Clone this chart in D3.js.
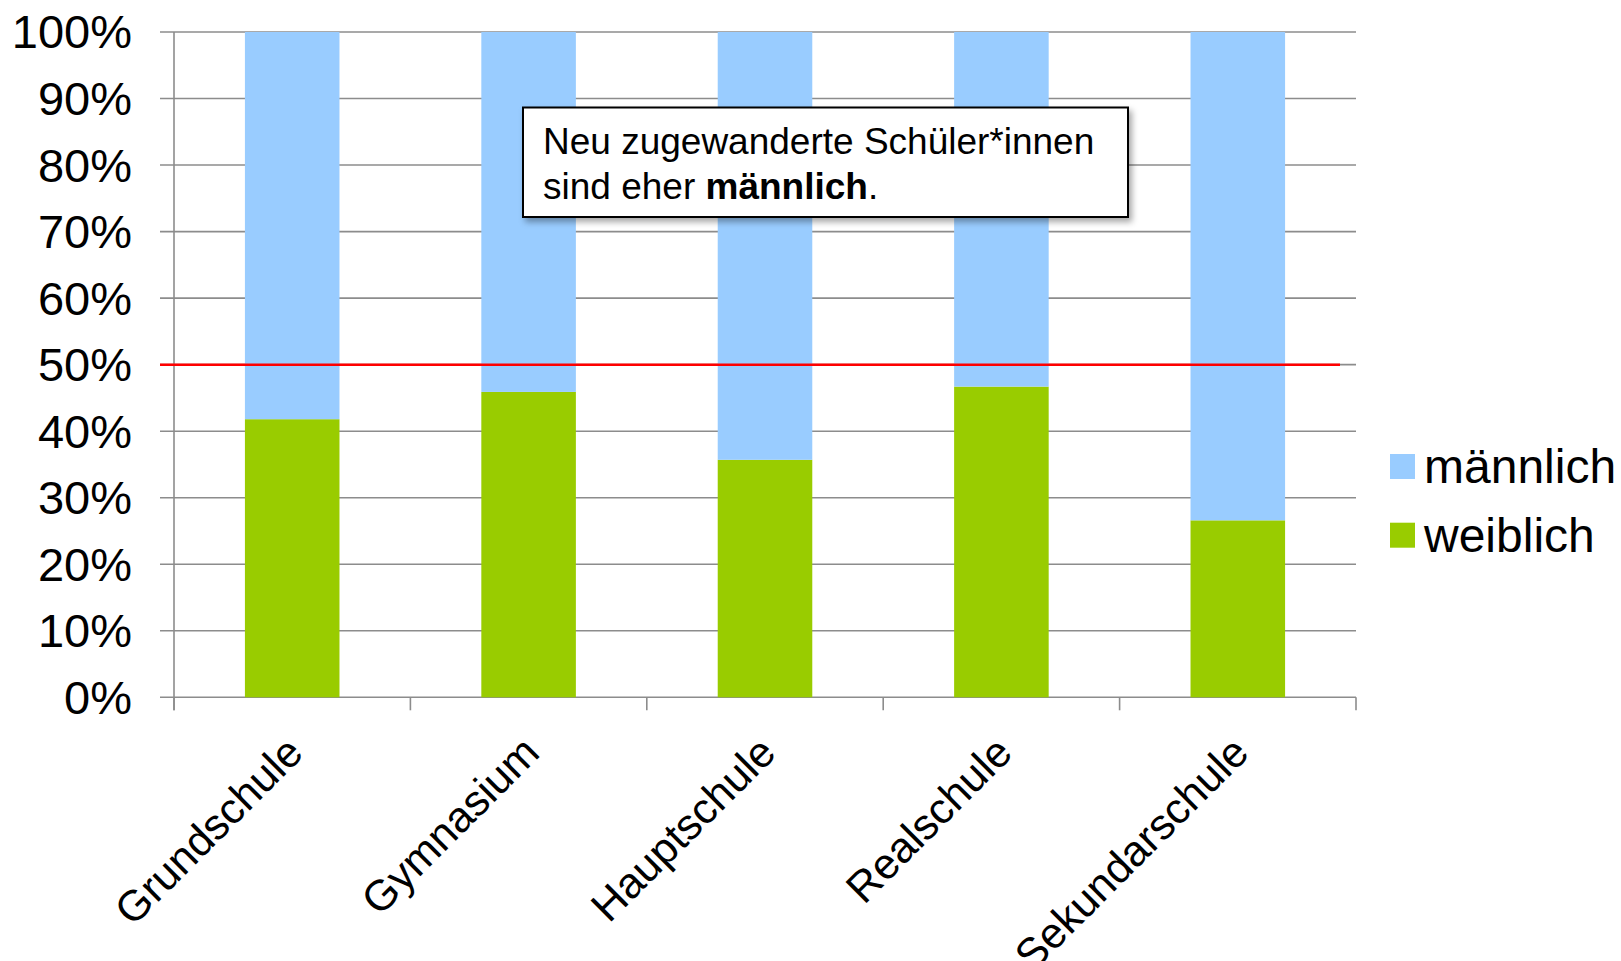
<!DOCTYPE html>
<html>
<head>
<meta charset="utf-8">
<script src="https://cdn.jsdelivr.net/npm/d3@7"></script>
<style>
  body { margin: 0; background: #fff; }
  text { font-family: "Liberation Sans", Arial, sans-serif; }
</style>
</head>
<body>
<script>
const categories = ["Grundschule", "Gymnasium", "Hauptschule", "Realschule", "Sekundarschule"];
const weiblich = [0.418, 0.459, 0.357, 0.467, 0.266];
const maennlich = weiblich.map(v => 1 - v);
const seriesNames = ["weiblich", "männlich"];
const yTicks = [0, 0.1, 0.2, 0.3, 0.4, 0.5, 0.6, 0.7, 0.8, 0.9, 1];
const threshold = 0.5;

const width = 1621, height = 961;
const colors = { "männlich": "#99ccff", "weiblich": "#99cc00" };

const x = d3.scaleBand().domain(categories).range([174, 1356]);
const y = d3.scaleLinear().domain([0, 1]).range([697.3, 32]);

const rows = categories.map((c, i) => ({ cat: c, "weiblich": weiblich[i], "männlich": maennlich[i] }));
const stack = d3.stack().keys(seriesNames)(rows);

const svg = d3.select("body").append("svg")
    .attr("width", width)
    .attr("height", height);

const defs = svg.append("defs");
const f = defs.append("filter").attr("id", "shadow")
    .attr("x", "-10%").attr("y", "-20%").attr("width", "130%").attr("height", "150%");
f.append("feDropShadow")
    .attr("dx", 3).attr("dy", 4).attr("stdDeviation", 3)
    .attr("flood-color", "#000").attr("flood-opacity", 0.35);

// gridlines
svg.append("g")
  .selectAll("line")
  .data(yTicks)
  .join("line")
    .attr("x1", 160).attr("x2", 1356)
    .attr("y1", d => y(d)).attr("y2", d => y(d))
    .attr("stroke", "#8c8c8c")
    .attr("stroke-width", 1.6);

// y axis line
svg.append("line")
    .attr("x1", 174).attr("x2", 174)
    .attr("y1", y(1)).attr("y2", y(0) + 13)
    .attr("stroke", "#8c8c8c").attr("stroke-width", 1.6);

// category tick marks at band edges
const edges = categories.map(c => x(c)).concat([x.range()[1]]);
svg.append("g")
  .selectAll("line")
  .data(edges)
  .join("line")
    .attr("x1", d => d).attr("x2", d => d)
    .attr("y1", y(0)).attr("y2", y(0) + 13)
    .attr("stroke", "#8c8c8c").attr("stroke-width", 1.6);

// y tick labels
svg.append("g")
  .selectAll("text")
  .data(yTicks)
  .join("text")
    .attr("x", 132)
    .attr("y", d => y(d))
    .attr("dy", "0.35em")
    .attr("text-anchor", "end")
    .style("font-size", "47px")
    .text(d => d3.format(".0%")(d));

// bars
const barW = x.bandwidth() * 0.4;
svg.append("g")
  .selectAll("g")
  .data(stack)
  .join("g")
    .attr("fill", d => colors[d.key])
  .selectAll("rect")
  .data(d => d)
  .join("rect")
    .attr("x", d => x(d.data.cat) + (x.bandwidth() - barW) / 2)
    .attr("width", barW)
    .attr("y", d => y(d[1]))
    .attr("height", d => y(d[0]) - y(d[1]));

// 50% line
svg.append("line")
    .attr("x1", 160).attr("x2", 1340)
    .attr("y1", y(threshold)).attr("y2", y(threshold))
    .attr("stroke", "#ff0000").attr("stroke-width", 2.5);

// x labels
svg.append("g")
  .selectAll("text")
  .data(categories)
  .join("text")
    .attr("text-anchor", "end")
    .attr("transform", d => `translate(${x(d) + x.bandwidth() / 2 + 13},755) rotate(-45)`)
    .style("font-size", "43px")
    .text(d => d);

// legend
const legend = svg.append("g")
  .selectAll("g")
  .data(["männlich", "weiblich"])
  .join("g")
    .attr("transform", (d, i) => `translate(1390,${454 + i * 68.7})`);
legend.append("rect")
    .attr("width", 25).attr("height", 25)
    .attr("fill", d => colors[d]);
legend.append("text")
    .attr("x", 34).attr("y", 12.5)
    .attr("dy", "0.35em")
    .style("font-size", "48px")
    .text(d => d);

// annotation box
const box = svg.append("g");
box.append("rect")
    .attr("x", 523).attr("y", 107.5)
    .attr("width", 605).attr("height", 109.5)
    .attr("fill", "#fff")
    .attr("stroke", "#000").attr("stroke-width", 2)
    .attr("filter", "url(#shadow)");
const t = box.append("text")
    .style("font-size", "37px");
t.append("tspan").attr("x", 543).attr("y", 154).text("Neu zugewanderte Schüler*innen");
const l2 = t.append("tspan").attr("x", 543).attr("y", 199);
l2.append("tspan").text("sind eher ");
l2.append("tspan").style("font-weight", "bold").text("männlich");
l2.append("tspan").text(".");
</script>
</body>
</html>
